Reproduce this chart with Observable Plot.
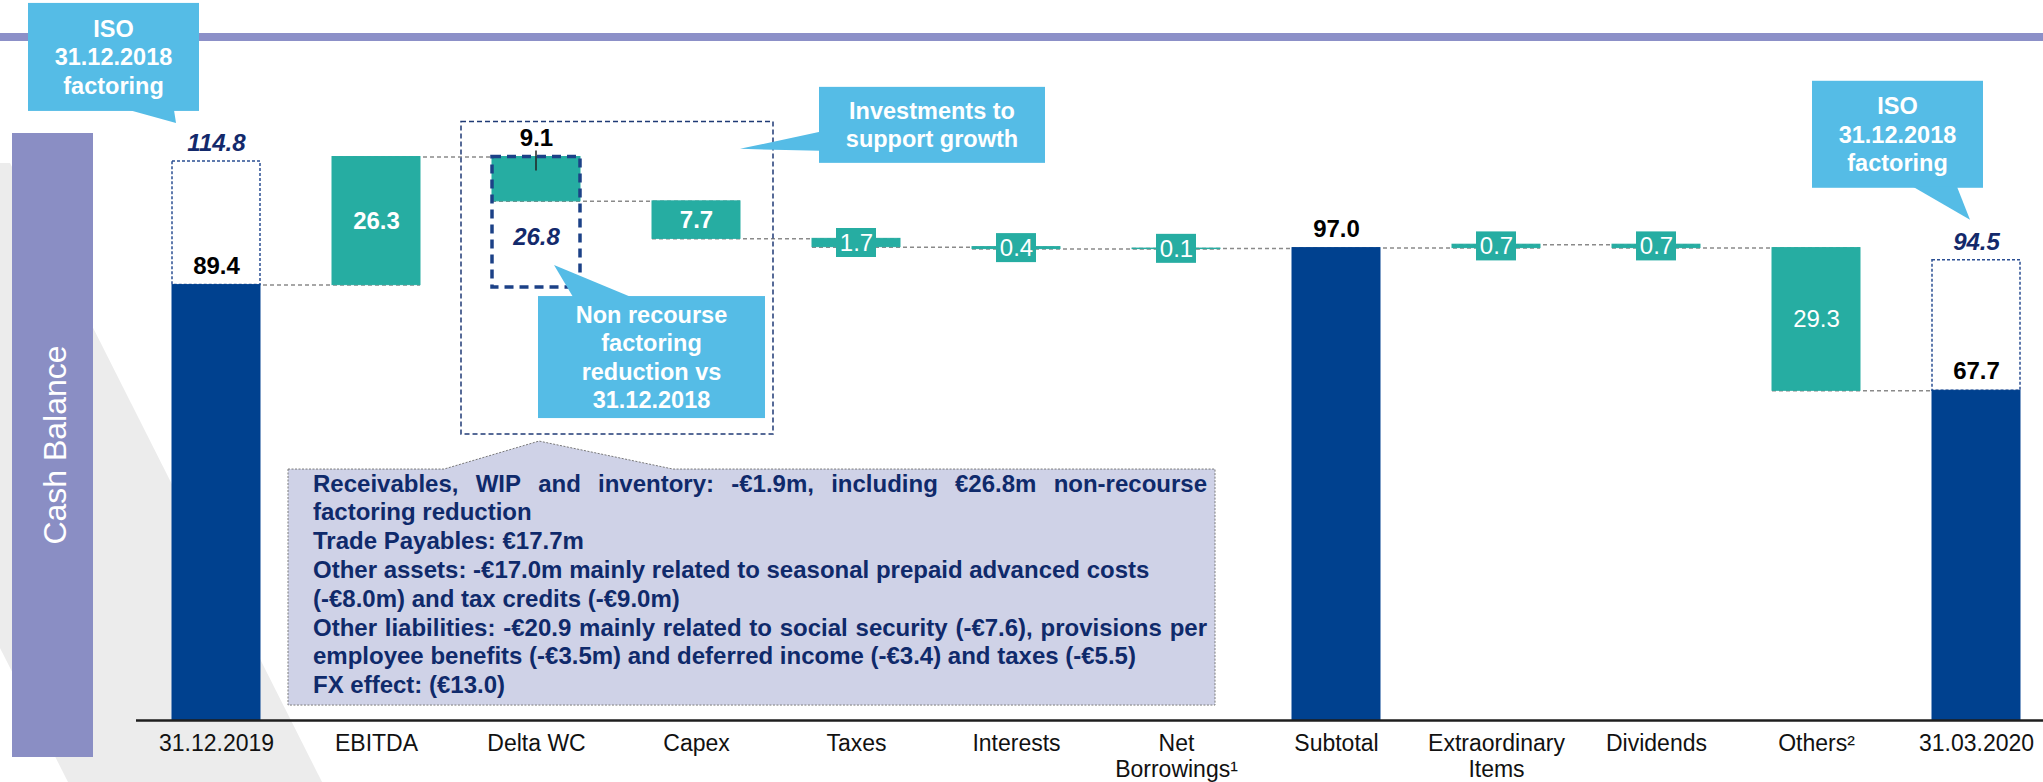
<!DOCTYPE html>
<html>
<head>
<meta charset="utf-8">
<script src="https://cdn.jsdelivr.net/npm/d3@7"></script>
<script src="https://cdn.jsdelivr.net/npm/@observablehq/plot@0.6"></script>
<style>
  html, body { margin: 0; padding: 0; background: #fff; overflow: hidden; }
  #chart { width: 2043px; height: 782px; }
</style>
</head>
<body>
<div id="chart"></div>
<script>
// ---------------- DATA ----------------
const categories = ["31.12.2019", "EBITDA", "Delta WC", "Capex", "Taxes", "Interests",
  "Net Borrowings", "Subtotal", "Extraordinary Items", "Dividends", "Others", "31.03.2020"];
const tickLabels = ["31.12.2019", "EBITDA", "Delta WC", "Capex", "Taxes", "Interests",
  "Net\nBorrowings¹", "Subtotal", "Extraordinary\nItems", "Dividends", "Others²", "31.03.2020"];
const values = [89.4, 26.3, -9.1, -7.7, -1.7, -0.4, 0.1, 97.0, 0.7, -0.7, -29.3, 67.7];
const isTotal = [true, false, false, false, false, false, false, true, false, false, false, true];

const isoCategories = ["31.12.2019", "31.03.2020"];
const isoValues = [114.8, 94.5];
const reductionCategory = "Delta WC";
const reductionValue = 26.8;

const isoCalloutLines = ["ISO", "31.12.2018", "factoring"];
const reductionCalloutLines = ["Non recourse", "factoring", "reduction vs", "31.12.2018"];
const investCalloutLines = ["Investments to", "support growth"];
const sideTitle = "Cash Balance";
const noteLines = [
  "Receivables, WIP and inventory: -€1.9m, including €26.8m non-recourse",
  "factoring reduction",
  "Trade Payables: €17.7m",
  "Other assets: -€17.0m mainly related to seasonal prepaid advanced costs",
  "(-€8.0m) and tax credits (-€9.0m)",
  "Other liabilities: -€20.9 mainly related to social security (-€7.6), provisions per",
  "employee benefits (-€3.5m) and deferred income (-€3.4) and taxes (-€5.5)",
  "FX effect: (€13.0)"
];
const justifiedNoteLines = [0, 5];

// ---------------- DERIVED TABLES ----------------
let level = 0;
const rows = categories.map((c, i) => {
  const v = values[i];
  let y1, y2;
  if (isTotal[i]) { y1 = 0; y2 = v; } else { y1 = level; y2 = level + v; }
  level = y2;
  return { cat: c, value: v, y1, y2, top: Math.max(y1, y2), mid: (y1 + y2) / 2,
           total: isTotal[i], label: Math.abs(v).toFixed(1) };
});
const connectors = rows.slice(0, -1).map((r, i) => ({ from: r.cat, to: rows[i + 1].cat, level: r.y2 }));
const isoRows = isoCategories.map((c, i) => {
  const r = rows.find(d => d.cat === c);
  return { cat: c, y1: r.y2, y2: isoValues[i], label: isoValues[i].toFixed(1) };
});
const redRow = rows.find(d => d.cat === reductionCategory);
const reductionRows = [{ cat: reductionCategory, y1: redRow.y1, y2: redRow.y1 - reductionValue,
  labelY: ((redRow.y2) + (redRow.y1 - reductionValue)) / 2, label: reductionValue.toFixed(1) }];

const boxedRows = rows.filter(d => !d.total && Math.abs(d.value) < 2);
const aboveRows = rows.filter(d => d.total || d.cat === reductionCategory);
const insideRows = rows.filter(d => !d.total && Math.abs(d.value) >= 2 && d.cat !== reductionCategory);
const insideBoldRows = insideRows.filter(d => d.cat !== "Others");
const insideRegularRows = insideRows.filter(d => d.cat === "Others");

// ---------------- STYLE ----------------
const NAVY = "#00418f", TEAL = "#26ada2", CALLOUT = "#55bce6", DARK = "#13296b";
const FONT = "'Liberation Sans', Arial, Helvetica, sans-serif";

const plot = Plot.plot({
  width: 2043,
  height: 782,
  marginLeft: 136,
  marginRight: 0,
  marginTop: 0,
  marginBottom: 62,
  style: { fontFamily: FONT, fontSize: "24px", background: "transparent", overflow: "visible" },
  x: { domain: categories, range: [136, 2056], paddingInner: 0.45, paddingOuter: 0.225, axis: null },
  y: { domain: [0, 100], range: [720, 233], axis: null },
  marks: [
    Plot.ruleY(connectors, { y: "level", x1: "from", x2: "to", stroke: "#8a8a8a", strokeWidth: 1.5, strokeDasharray: "4,3" }),
    Plot.barY(isoRows, { x: "cat", y1: "y1", y2: "y2", fill: "white", stroke: "#2b4f93", strokeWidth: 1.5, strokeDasharray: "3,2" }),
    Plot.barY(rows, { x: "cat", y1: "y1", y2: "y2", fill: d => d.total ? NAVY : TEAL,
      stroke: d => d.total ? NAVY : TEAL, strokeWidth: 1 }),
    Plot.barY(reductionRows, { x: "cat", y1: "y1", y2: "y2", fill: "none", stroke: "#1c4187", strokeWidth: 3.5, strokeDasharray: "9,6" }),
    Plot.barY(boxedRows, { x: "cat", y1: "mid", y2: "mid", fill: TEAL, insetTop: -14.5, insetBottom: -14.5, insetLeft: 24, insetRight: 24 }),
    Plot.text(boxedRows, { x: "cat", y: "mid", text: "label", fill: "white", fontSize: 24, fontWeight: "normal" }),
    Plot.text(insideBoldRows, { x: "cat", y: "mid", text: "label", fill: "white", fontSize: 24, fontWeight: "bold" }),
    Plot.text(insideRegularRows, { x: "cat", y: "mid", text: "label", fill: "white", fontSize: 24, fontWeight: "normal" }),
    Plot.text(aboveRows, { x: "cat", y: "top", dy: -19, text: "label", fill: "#000", fontSize: 24, fontWeight: "bold" }),
    Plot.text(isoRows, { x: "cat", y: "y2", dy: -18, text: "label", fill: DARK, fontSize: 24, fontWeight: "bold", fontStyle: "italic" }),
    Plot.text(reductionRows, { x: "cat", y: "labelY", dy: -7, text: "label", fill: DARK, fontSize: 24, fontWeight: "bold", fontStyle: "italic" }),
    Plot.ruleY([0], { stroke: "#1e1e1e", strokeWidth: 2.5 }),
    Plot.axisX({ tickSize: 0, tickPadding: 12, fontSize: 23, lineHeight: 1.12, fill: "#111",
      tickFormat: d => tickLabels[categories.indexOf(d)], label: null })
  ]
});

document.getElementById("chart").appendChild(plot);

// make sure the tick labels use the reference size
d3.select(plot).selectAll('g[aria-label="x-axis tick label"]').attr("font-size", 23);

// ---------------- ANNOTATIONS (positioned from Plot's scales) ----------------
const svg = d3.select(plot);
const xs = plot.scale("x"), ys = plot.scale("y");
const bw = xs.bandwidth;
const X = c => xs.apply(c);
const Y = v => ys.apply(v);

// background decoration
const bg = svg.insert("g", ":first-child");
bg.append("polygon").attr("points", "0,163 10,163 322,782 68,782 0,648").attr("fill", "#ececec");
bg.append("rect").attr("x", 0).attr("y", 33).attr("width", 2043).attr("height", 8).attr("fill", "#8c90c8");
bg.append("rect").attr("x", 12).attr("y", 133).attr("width", 81).attr("height", 624).attr("fill", "#8a8ec4");
bg.append("text").attr("transform", "translate(66,445) rotate(-90)").attr("text-anchor", "middle")
  .attr("fill", "white").attr("font-size", 32).attr("font-family", FONT).text(sideTitle);

const fg = svg.append("g").attr("font-family", FONT);

function callout(box, tail, lines, size = 23.5, lh = 28.5) {
  const g = fg.append("g");
  g.append("rect").attr("x", box.x).attr("y", box.y).attr("width", box.w).attr("height", box.h).attr("fill", CALLOUT);
  g.append("polygon").attr("points", tail.map(p => p.join(",")).join(" ")).attr("fill", CALLOUT);
  const cy = box.y + box.h / 2;
  lines.forEach((t, i) => {
    g.append("text").attr("x", box.x + box.w / 2)
      .attr("y", cy + (i - (lines.length - 1) / 2) * lh).attr("dy", "0.35em")
      .attr("text-anchor", "middle").attr("fill", "white").attr("font-weight", "bold")
      .attr("font-size", size).text(t);
  });
}

// 9.1 leader tick
{
  const cx = X(reductionCategory) + bw / 2, yt = Y(redRow.y1);
  fg.append("line").attr("x1", cx).attr("x2", cx).attr("y1", yt - 6).attr("y2", yt + 14)
    .attr("stroke", "#222").attr("stroke-width", 1.5);
}

// ISO callouts
{
  const lx = X(isoCategories[0]) + bw / 2, ly = Y(isoValues[0]) - 18;
  const tip = [lx - 40, ly - 20], bottom = tip[1] - 12;
  callout({ x: lx - 188, y: bottom - 108, w: 171, h: 108 },
    [[lx - 87, bottom - 1], tip, [lx - 42, bottom - 1]], isoCalloutLines);
}
{
  const lx = X(isoCategories[1]) + bw / 2, ly = Y(isoValues[1]) - 18;
  const tip = [lx - 6, ly - 22], bottom = tip[1] - 32;
  callout({ x: lx - 164, y: bottom - 107, w: 171, h: 107 },
    [[lx - 63, bottom - 1], tip, [lx - 19, bottom - 1]], isoCalloutLines);
}

// reduction callout + investments callout + outer dashed box
const bx = X(reductionCategory);
const b = Y(redRow.y1 - reductionValue);
const capexEnd = X("Capex") + bw;
const capexTop = Y(rows.find(d => d.cat === "Capex").top);
const redBox = { x: bx + 46, y: b + 9, w: 227, h: 122 };
const outer = { x1: bx - 31, x2: capexEnd + 33, y1: Y(redRow.y1) - 35, y2: redBox.y + redBox.h + 16 };
fg.insert("rect", ":first-child").attr("x", outer.x1).attr("y", outer.y1)
  .attr("width", outer.x2 - outer.x1).attr("height", outer.y2 - outer.y1)
  .attr("fill", "none").attr("stroke", "#1f3a75").attr("stroke-width", 1.5).attr("stroke-dasharray", "5,3");
callout(redBox, [[bx + 81, redBox.y + 1], [bx + 62, b - 22], [bx + 139, redBox.y + 1]], reductionCalloutLines);
const invBox = { x: capexEnd + 79, y: capexTop - 114, w: 226, h: 76 };
callout(invBox, [[invBox.x + 1, capexTop - 69], [capexEnd, capexTop - 52], [invBox.x + 1, capexTop - 50]], investCalloutLines);

// note box
{
  const ax = X(reductionCategory) + bw / 2 + 3, ay = outer.y2 + 7;
  const top = ay + 28, left = ax - 251, right = ax + 676, bottom = ay + 264;
  fg.append("path")
    .attr("d", `M${left},${top} L${ax - 95},${top} L${ax},${ay} L${ax + 134},${top} L${right},${top} L${right},${bottom} L${left},${bottom} Z`)
    .attr("fill", "#cfd2e7").attr("stroke", "#7a7a7a").attr("stroke-width", 1).attr("stroke-dasharray", "2,1.5");
  const tx = left + 25, tRight = left + 919, fs = 24, lh = 28.8;
  const tg = fg.append("g").attr("text-anchor", "start").attr("font-weight", "bold").attr("font-size", fs).attr("fill", "#0f2a6b");
  noteLines.forEach((line, i) => {
    const t = tg.append("text").attr("text-anchor", "start").attr("x", tx).attr("y", top + 22.5 + i * lh);
    if (justifiedNoteLines.includes(i)) {
      const words = line.split(" ");
      const widths = words.map(w => {
        const m = tg.append("text").attr("text-anchor", "start").text(w);
        const wd = m.node().getComputedTextLength(); m.remove(); return wd;
      });
      const gap = (tRight - tx - d3.sum(widths)) / (words.length - 1);
      let cx = tx;
      words.forEach((w, j) => { t.append("tspan").attr("x", cx).text(w); cx += widths[j] + gap; });
    } else {
      t.text(line);
    }
  });
}
</script>
</body>
</html>
